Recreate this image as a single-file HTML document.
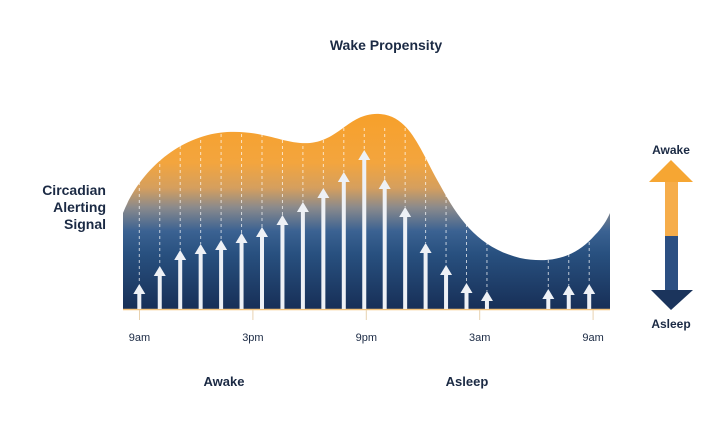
<!DOCTYPE html>
<html><head><meta charset="utf-8"><style>
body{margin:0;background:#fff;width:711px;height:420px;overflow:hidden;font-family:"Liberation Sans",sans-serif}
text{font-family:"Liberation Sans",sans-serif}
</style></head><body>
<svg width="711" height="420" viewBox="0 0 711 420">
<defs>
<linearGradient id="g" x1="0" y1="0" x2="0" y2="1" gradientUnits="objectBoundingBox">
<stop offset="0" stop-color="#f7a02a"/><stop offset="0.25" stop-color="#f3a53e"/>
<stop offset="0.38" stop-color="#d59f5e"/><stop offset="0.48" stop-color="#8a8a8c"/>
<stop offset="0.6" stop-color="#3b6292"/><stop offset="0.72" stop-color="#28507f"/>
<stop offset="1" stop-color="#172f57"/></linearGradient>
</defs>
<text x="386" y="50" text-anchor="middle" font-size="14" font-weight="bold" fill="#1b2a44">Wake Propensity</text>
<g font-size="14" font-weight="bold" fill="#1b2a44" text-anchor="end">
<text x="106" y="195">Circadian</text><text x="106" y="212">Alerting</text><text x="106" y="229">Signal</text></g>
<path fill="url(#g)" d="M123,213 C140,170 180,135 227,132 C265,130 285,145 310,143 C340,140 350,112 380,114 C410,116 420,150 440,185 C460,222 480,248 520,258 C550,264 575,258 595,235 C602,228 607,220 610,213 L610,309 L123,309 Z"/>
<line x1="123" y1="309.5" x2="610" y2="309.5" stroke="#f3c27a" stroke-width="1.5"/>
<g id="ticks"></g>
<g id="dash"></g>
<g id="arrows"></g>
<text x="224" y="386" text-anchor="middle" font-size="13" font-weight="bold" fill="#1b2a44">Awake</text>
<text x="467" y="386" text-anchor="middle" font-size="13" font-weight="bold" fill="#1b2a44">Asleep</text>
<g>
<rect x="665" y="181" width="13" height="55" fill="#f6ad4a"/>
<polygon points="649,182 671,160 693,182" fill="#f6a633"/>
<rect x="665" y="236" width="13" height="55" fill="#2c4f82"/>
<polygon points="651,290 671,310 693,290" fill="#1b345c"/>
</g>
<text x="671" y="154" text-anchor="middle" font-size="12" font-weight="bold" fill="#1b2a44">Awake</text>
<text x="671" y="328" text-anchor="middle" font-size="12" font-weight="bold" fill="#1b2a44">Asleep</text>
</svg>
<script>
const slots=[0,1,2,3,4,5,6,7,8,9,10,11,12,13,14,15,16,17,20,21,22];
const values=[25,43,59,65,69,76,82,94,107,121,137,159,130,102,66,44,26,18,20,24,25];
const tickLabels=["9am","3pm","9pm","3am","9am"];
const tickHours=[0,6,12,18,24];
const ns="http://www.w3.org/2000/svg";
const base=309;
function xs(i){return 139.3+i*20.45;}
function xh(h){return 139.5+h*18.9;}
function ys(v){return base-v;}
const arrows=document.getElementById('arrows'),dash=document.getElementById('dash'),ticks=document.getElementById('ticks');
slots.forEach((s,i)=>{
 const x=xs(s),top=ys(values[i]);
 const d=document.createElementNS(ns,'line');
 
 
 d.setAttribute('x1',x);d.setAttribute('x2',x);d.setAttribute('y1',128);d.setAttribute('y2',top);
 d.setAttribute('stroke','rgba(255,255,255,0.7)');d.setAttribute('stroke-width','1');d.setAttribute('stroke-dasharray','3,3');
 dash.appendChild(d);
 const g=document.createElementNS(ns,'g');
 
 
 const r=document.createElementNS(ns,'rect');
 r.setAttribute('x',x-2);r.setAttribute('y',top+8);r.setAttribute('width',4);r.setAttribute('height',base-top-8);r.setAttribute('fill','#eef1f6');
 const p=document.createElementNS(ns,'polygon');
 p.setAttribute('points',`${x-6},${top+10} ${x},${top} ${x+6},${top+10}`);p.setAttribute('fill','#eef1f6');
 g.appendChild(r);g.appendChild(p);arrows.appendChild(g);
});
tickHours.forEach((h,i)=>{
 const x=xh(h);
 const l=document.createElementNS(ns,'line');
 
 
 l.setAttribute('x1',x);l.setAttribute('x2',x);l.setAttribute('y1',310);l.setAttribute('y2',320);l.setAttribute('stroke','#e8d2b0');
 ticks.appendChild(l);
 const t=document.createElementNS(ns,'text');
 
 
 t.setAttribute('x',x);t.setAttribute('y',341);t.setAttribute('text-anchor','middle');t.setAttribute('font-size','11');t.setAttribute('fill','#1b2a44');
 t.textContent=tickLabels[i];ticks.appendChild(t);
});
</script>
</body></html>
